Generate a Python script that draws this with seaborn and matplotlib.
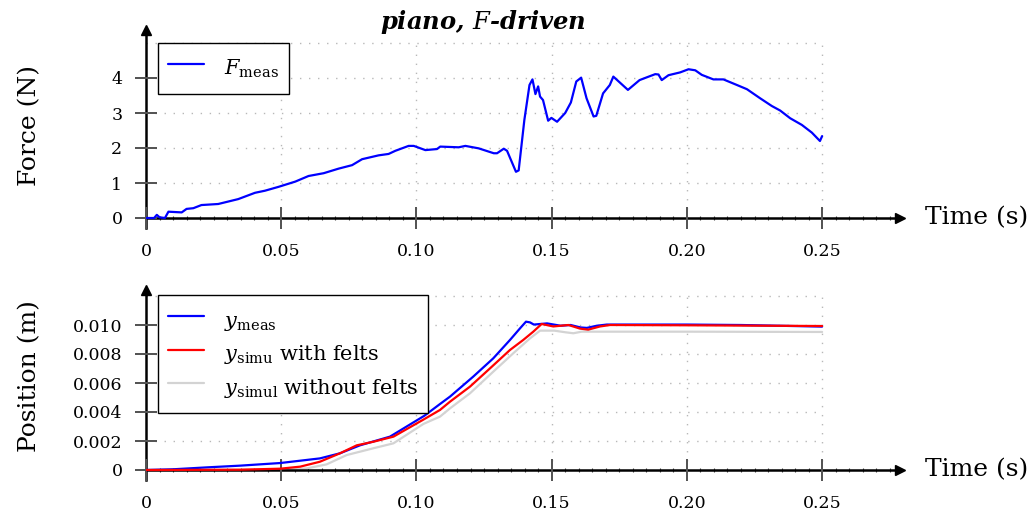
import numpy as np
import pandas as pd
import matplotlib
matplotlib.use("Agg")
import matplotlib.pyplot as plt
import seaborn as sns

# ---------------- data ----------------
t_force = [0.000, 0.003, 0.004, 0.005, 0.007, 0.0083, 0.0132, 0.0150, 0.0175, 0.0205,
           0.0267, 0.0304, 0.0341, 0.0403, 0.0440, 0.0490, 0.0552, 0.0601, 0.0657, 0.0712,
           0.0762, 0.0799, 0.0860, 0.0897, 0.0922, 0.0971, 0.0990, 0.1033, 0.1076, 0.1088,
           0.1156, 0.1181, 0.1230, 0.1286, 0.1298, 0.1323, 0.1335, 0.1368, 0.1378, 0.1399,
           0.1418, 0.1429, 0.1440, 0.1450, 0.1457, 0.1468, 0.1487, 0.1499, 0.1520, 0.1550,
           0.1571, 0.1591, 0.1609, 0.1629, 0.1655, 0.1665, 0.1690, 0.1715, 0.1728, 0.1782,
           0.1825, 0.1852, 0.1883, 0.1895, 0.1907, 0.1932, 0.1975, 0.2006, 0.2031, 0.2055,
           0.2098, 0.2135, 0.2185, 0.2222, 0.2271, 0.2314, 0.2345, 0.2382, 0.2425, 0.2462,
           0.2492, 0.2500]
f_meas = [0.00, 0.00, 0.09, 0.02, 0.00, 0.18, 0.16, 0.26, 0.28, 0.37,
          0.40, 0.47, 0.54, 0.72, 0.78, 0.89, 1.04, 1.20, 1.28, 1.41,
          1.51, 1.68, 1.79, 1.83, 1.92, 2.06, 2.06, 1.94, 1.97, 2.04,
          2.02, 2.06, 1.99, 1.85, 1.85, 1.98, 1.92, 1.32, 1.36, 2.80,
          3.80, 3.96, 3.54, 3.76, 3.47, 3.37, 2.78, 2.86, 2.75, 3.00,
          3.30, 3.90, 4.01, 3.42, 2.90, 2.92, 3.56, 3.80, 4.04, 3.66,
          3.94, 4.02, 4.11, 4.10, 3.94, 4.08, 4.16, 4.25, 4.22, 4.09,
          3.96, 3.96, 3.80, 3.68, 3.42, 3.20, 3.07, 2.85, 2.66, 2.44,
          2.20, 2.34]

t_meas = [0.0, 0.0101, 0.0224, 0.0348, 0.0496, 0.0643, 0.0717, 0.0791, 0.0902, 0.1030,
          0.1087, 0.1124, 0.1210, 0.1284, 0.1346, 0.1383, 0.1405, 0.1420, 0.1434, 0.1483,
          0.1533, 0.1570, 0.1607, 0.1630, 0.1667, 0.1704, 0.2000, 0.2200, 0.2500]
y_meas = [0.0, 0.00005, 0.00018, 0.00030, 0.00048, 0.00080, 0.00115, 0.00170, 0.00230, 0.00375,
          0.00455, 0.00506, 0.00644, 0.00770, 0.00897, 0.00977, 0.01023, 0.01018, 0.01003, 0.01011,
          0.00995, 0.01000, 0.00983, 0.00980, 0.00995, 0.01003, 0.01003, 0.01000, 0.00989]

t_simu = [0.0, 0.0348, 0.0496, 0.0570, 0.0643, 0.0717, 0.0779, 0.0841, 0.0915, 0.1028,
          0.1087, 0.1124, 0.1198, 0.1272, 0.1346, 0.1395, 0.1432, 0.1463, 0.1506, 0.1562,
          0.1605, 0.1635, 0.1679, 0.1716, 0.2000, 0.2500]
y_simu = [0.0, 0.00002, 0.00009, 0.00023, 0.00057, 0.00115, 0.00170, 0.00195, 0.00230, 0.00350,
          0.00414, 0.00471, 0.00575, 0.00701, 0.00828, 0.00897, 0.00954, 0.01007, 0.00990, 0.01000,
          0.00975, 0.00968, 0.00990, 0.01000, 0.00998, 0.00993]

t_simul = [0.0, 0.0496, 0.0594, 0.0668, 0.0742, 0.0841, 0.0915, 0.1026, 0.1087, 0.1124,
           0.1198, 0.1284, 0.1358, 0.1420, 0.1457, 0.1510, 0.1550, 0.1580, 0.1611, 0.2000,
           0.2500]
y_simul = [0.0, 0.00002, 0.00011, 0.00039, 0.00103, 0.00150, 0.00184, 0.00318, 0.00368, 0.00425,
           0.00529, 0.00678, 0.00805, 0.00908, 0.00961, 0.00961, 0.00950, 0.00943, 0.00954, 0.00954,
           0.00952]

x_ticks = [0, 0.05, 0.10, 0.15, 0.20, 0.25]
x_ticklabels = ["0", "0.05", "0.10", "0.15", "0.20", "0.25"]
f_ticks = [0, 1, 2, 3, 4]
f_ticklabels = ["0", "1", "2", "3", "4"]
f_grid = [1, 2, 3, 4, 5]
p_ticks = [0, 0.002, 0.004, 0.006, 0.008, 0.010]
p_ticklabels = ["0", "0.002", "0.004", "0.006", "0.008", "0.010"]
p_grid = [0.002, 0.004, 0.006, 0.008, 0.010, 0.012]

# ---------------- style ----------------
sns.set_theme(style="white")
plt.rcParams["font.family"] = ["DejaVu Serif"]
plt.rcParams["mathtext.fontset"] = "dejavuserif"
plt.rcParams["text.color"] = "black"

W, H = 1034, 512
fig = plt.figure(figsize=(W / 100, H / 100), dpi=100)

def frac(l, t, r, b):
    return [l / W, 1 - b / H, (r - l) / W, (b - t) / H]

ax1 = fig.add_axes(frac(146, 30, 900, 228))
ax2 = fig.add_axes(frac(146, 290, 900, 480))

XMAX = 0.2788
ax1.set_xlim(0, XMAX)
ax1.set_ylim(-10 / 35, 188 / 35)
ax2.set_xlim(0, XMAX)
ax2.set_ylim(-10 / 14500, 180 / 14500)

grid_kw = dict(color="#b8b8b8", lw=1.0, linestyle=(0, (1, 5.5)), zorder=0)
ax1.vlines(x_ticks[1:], 0, f_grid[-1], **grid_kw)
ax1.hlines(f_grid, 0, x_ticks[-1], **grid_kw)
ax2.vlines(x_ticks[1:], 0, p_grid[-1], **grid_kw)
ax2.hlines(p_grid, 0, x_ticks[-1], **grid_kw)

lw = 1.6
sns.lineplot(x=t_force, y=f_meas, ax=ax1, color="#0000ff", lw=lw,
             label=r"$F_{\mathrm{meas}}$", zorder=3)
sns.lineplot(x=t_meas, y=y_meas, ax=ax2, color="#0000ff", lw=lw,
             label=r"$y_{\mathrm{meas}}$", zorder=3)
sns.lineplot(x=t_simu, y=y_simu, ax=ax2, color="#ff0000", lw=lw,
             label=r"$y_{\mathrm{simu}}$ with felts", zorder=3)
sns.lineplot(x=t_simul, y=y_simul, ax=ax2, color="#d3d3d3", lw=lw,
             label=r"$y_{\mathrm{simul}}$ without felts", zorder=2)

minor_x = [round(v, 3) for v in np.arange(0.005, 0.2751, 0.005)
           if round(v, 3) not in x_ticks]

for ax, yt, ytl, center_y, ylab in [(ax1, f_ticks, f_ticklabels, 125, "Force (N)"),
                                      (ax2, p_ticks, p_ticklabels, 376, "Position (m)")]:
    ax.set_xlabel("")
    ax.set_ylabel("")
    for s in ["top", "right"]:
        ax.spines[s].set_visible(False)
    ax.spines["left"].set_position(("data", 0))
    ax.spines["bottom"].set_position(("data", 0))
    for s in ["left", "bottom"]:
        ax.spines[s].set_linewidth(1.8)
        ax.spines[s].set_color("black")
    ax.set_xticks(x_ticks, x_ticklabels)
    ax.set_yticks(yt, ytl)
    ax.set_xticks(minor_x, minor=True)
    ax.tick_params(axis="both", which="major", direction="inout", length=16,
                   width=1.4, color="#555555", labelsize=12.5, labelcolor="black",
                   bottom=True, left=True)
    ax.tick_params(axis="x", which="major", pad=10)
    ax.tick_params(axis="y", which="major", pad=9)
    ax.tick_params(axis="x", which="minor", direction="inout", length=3,
                   width=0.8, color="#444444", bottom=True)
    ax.tick_params(axis="y", which="minor", left=False)
    # tick marks also as markers at the tick positions (robust rendering)
    ax.plot(x_ticks, [0] * len(x_ticks), ls="none", marker="|", ms=16, mew=1.4,
            color="#555555", clip_on=False, zorder=2.6)
    ax.plot([0] * len(yt), yt, ls="none", marker="_", ms=16, mew=1.4,
            color="#555555", clip_on=False, zorder=2.6)
    ax.plot(1, 0, ">", color="black", ms=7, transform=ax.get_yaxis_transform(),
            clip_on=False, zorder=5)
    ax.plot(0, 1, "^", color="black", ms=7, transform=ax.get_xaxis_transform(),
            clip_on=False, zorder=5)
    ax.text(1.033, 0, "Time (s)", transform=ax.get_yaxis_transform(),
            ha="left", va="center", fontsize=18, color="black")
    fig.text(30 / W, 1 - center_y / H, ylab, rotation=90, ha="center",
             va="center", fontsize=18, color="black")

leg_kw = dict(loc="upper left", bbox_transform=fig.transFigure, borderaxespad=0,
              fontsize=15, frameon=True, fancybox=False, framealpha=1,
              edgecolor="black", handlelength=1.7, handletextpad=0.95,
              handleheight=1.85, borderpad=0.5, labelspacing=0.15)
l1 = ax1.legend(bbox_to_anchor=(158 / W, 1 - 43 / H), **leg_kw)
l2 = ax2.legend(bbox_to_anchor=(158 / W, 1 - 295 / H), **leg_kw)
for lg in (l1, l2):
    lg.get_frame().set_linewidth(1.0)
    lg.set_zorder(6)
    for tx in lg.get_texts():
        tx.set_color("black")

fig.text(483 / W, 1 - 22 / H, r"piano, $F$-driven", ha="center", va="center",
         fontsize=17.5, fontweight="bold", fontstyle="italic", color="black")

fig.savefig("out.png", dpi=100)
